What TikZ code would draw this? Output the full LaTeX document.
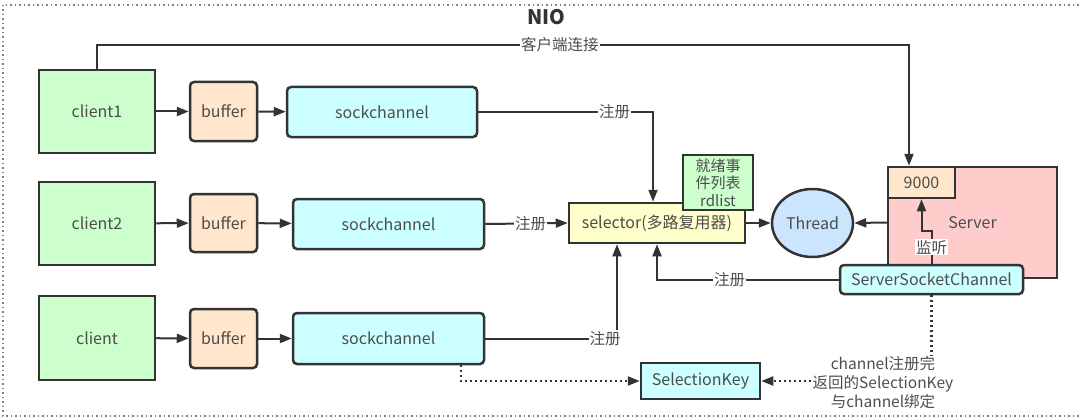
\documentclass[tikz,border=0pt]{standalone}
\usepackage{fontspec}
\setmainfont{Noto Sans CJK SC}
\usetikzlibrary{arrows.meta,calc,shapes.geometric}
\definecolor{clientgreen}{HTML}{CCFFCC}
\definecolor{bufpeach}{HTML}{FFE6CC}
\definecolor{chancyan}{HTML}{CCFFFF}
\definecolor{selyellow}{HTML}{FFFFCC}
\definecolor{threadblue}{HTML}{CCE5FF}
\definecolor{serverpink}{HTML}{FFCCCC}
\definecolor{edgegray}{HTML}{333333}
\definecolor{txtgray}{HTML}{4D4D4D}
\begin{document}
\begin{tikzpicture}[x=1pt,y=-1pt,font=\fontsize{16}{19}\selectfont,
    box/.style={draw=edgegray,line width=2.5pt,text=txtgray,inner sep=0pt,align=center},
    link/.style={draw=edgegray,line width=2pt,-{Triangle[length=12pt,width=9pt]}},
    dots/.style={draw=edgegray,line width=2.2pt,dash pattern=on 2pt off 3pt},
    lbl/.style={fill=white,text=txtgray,inner sep=1pt,font=\fontsize{15.5}{19}\selectfont}]
      \useasboundingbox (0,0) rectangle (1080,420);
      \draw [gray,line width=1.5pt,dash pattern=on 1.5pt off 3pt] (3,5) rectangle (1095,416);
      \node [font=\fontsize{20}{24}\selectfont\bfseries,text=edgegray] (title) at (546,17) {NIO};
      \node [box,fill=clientgreen,minimum width=116,minimum height=83] (c1) at (97,111.5) {client1};
      \node [box,fill=clientgreen,minimum width=116,minimum height=83] (c2) at (97,223.5) {client2};
      \node [box,fill=clientgreen,minimum width=116,minimum height=84] (c3) at (97,338) {client};
      \node [box,fill=bufpeach,rounded corners=4pt,minimum width=67,minimum height=59] (b1) at (223.5,111.5) {buffer};
      \node [box,fill=bufpeach,rounded corners=4pt,minimum width=67,minimum height=58] (b2) at (223.5,223) {buffer};
      \node [box,fill=bufpeach,rounded corners=4pt,minimum width=67,minimum height=59] (b3) at (223.5,338.5) {buffer};
      \node [box,fill=chancyan,rounded corners=4pt,minimum width=190,minimum height=50] (s1) at (382,112) {sockchannel};
      \node [box,fill=chancyan,rounded corners=4pt,minimum width=191,minimum height=50] (s2) at (388.5,224) {sockchannel};
      \node [box,fill=chancyan,rounded corners=4pt,minimum width=191,minimum height=51] (s3) at (388.5,338.5) {sockchannel};
      \node [box,fill=selyellow,minimum width=176,minimum height=40] (sel) at (657,223) {selector(多路复用器)};
      \node [box,fill=clientgreen,minimum width=70,minimum height=55,font=\fontsize{15}{17.5}\selectfont] (rd) at (718,182.5) {就绪事\\件列表\\rdlist};
      \node [box,fill=threadblue,ellipse,minimum width=81,minimum height=68] (th) at (812.5,223) {Thread};
      \node [box,fill=serverpink,minimum width=169,minimum height=111] (srv) at (972.5,222.5) {Server};
      \node [box,fill=bufpeach,minimum width=67,minimum height=31] (port) at (921.5,182.5) {9000};
      \node [box,fill=chancyan,rounded corners=4pt,minimum width=183,minimum height=29] (ssc) at (931.5,279.5) {ServerSocketChannel};
      \node [box,fill=chancyan,minimum width=119,minimum height=36] (key) at (700.5,381) {SelectionKey};
      \node [text=txtgray,align=center,inner sep=1pt,font=\fontsize{15.5}{19}\selectfont] (bind) at (883,383) {channel注册完\\返回的SelectionKey\\与channel绑定};
      \coordinate (top) at (909,45);
      \draw [link] (c1.north) |- node [lbl,pos=0.785] {客户端连接} (top) -- (top |- port.north);
      \draw [link] (c1) -- (b1);
      \draw [link] (b1) -- (s1);
      \draw [link] (c2) -- (b2);
      \draw [link] (b2) -- (s2);
      \draw [link] (c3) -- (b3);
      \draw [link] (b3) -- (s3);
      \draw [link] (s1.east) -| node [lbl,pos=0.39] {注册} ($(sel.north)+(-4,0)$);
      \draw [link] (s2.east) -- node [lbl,pos=0.55] {注册} (sel.west);
      \draw [link] (s3.east) -| node [lbl,pos=0.455] {注册} ($(sel.south)+(-40,0)$);
      \draw [link] (sel.east) -- (th.west);
      \draw [link] (srv.west) -- (th.east);
      \draw [link] (ssc.west) -| node [lbl,pos=0.3] {注册} (sel.south);
      \draw [link] (ssc.north) -- node [lbl] {监听} ++(0,-33) -| (port.south);
      \draw [dots,-{Triangle[length=12pt,width=9pt]}] ($(s3.south)+(72.5,0)$) |- (key.west);
      \draw [dots] (ssc.south) -- (ssc.south |- bind.north);
      \draw [dots,-{Triangle[length=12pt,width=9pt]}] (bind.west |- key.east) -- (key.east);
\end{tikzpicture}
\end{document}
